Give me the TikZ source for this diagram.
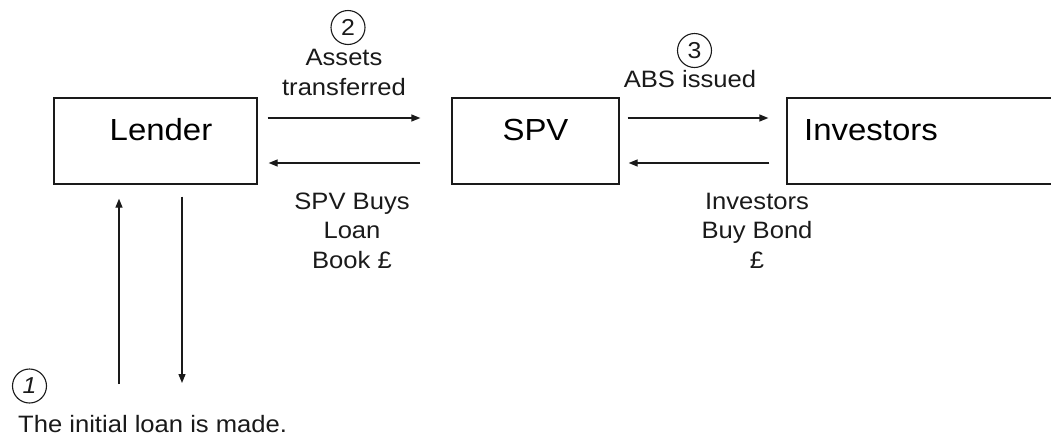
\documentclass[tikz,border=0pt]{standalone}
\usepackage{fontspec}
\setmainfont[FakeStretch=1.08]{Liberation Sans}
\usetikzlibrary{arrows.meta,calc}
\definecolor{ink}{HTML}{1A1A1A}
\tikzset{
  box/.style={draw=ink, line width=1.3pt, minimum height=86pt, inner sep=0pt},
  boxtext/.style={anchor=base, inner sep=0pt, font=\fontsize{30.5}{36}\selectfont, text=black},
  lbl/.style={anchor=base, inner sep=0pt, align=center, font=\fontsize{23.7}{29.3}\selectfont, text=ink},
  num/.style={draw=ink, circle, line width=1.1pt, minimum size=34pt, inner sep=0pt, font=\fontsize{23}{27}\selectfont, text=ink},
  arr/.style={draw=ink, line width=1.3pt, -{Triangle[length=9pt,width=7pt]}}
}
\begin{document}
\begin{tikzpicture}[x=1pt,y=-1pt]
\useasboundingbox (0,0) rectangle (1051,437);
\clip (0,0) rectangle (1051,437);
% boxes
\node[box, minimum width=203pt] (lender) at (155.5,141) {};
\node[box, minimum width=167pt] (spv) at (535.5,141) {};
\node[box, minimum width=333pt] (inv) at (953.5,141) {};
\node[boxtext] (lendert) at (161,140) {Lender};
\node[boxtext] (spvt) at (535.5,140) {SPV};
\node[boxtext] (invt) at (871,140) {Investors};
% horizontal arrows
\draw[arr] ($(lender.east)+(10,-23)$) -- ($(spv.west)+(-31,-23)$);
\draw[arr] ($(spv.west)+(-31,22)$) -- ($(lender.east)+(11,22)$);
\draw[arr] ($(spv.east)+(8,-23)$) -- ($(inv.west)+(-18,-23)$);
\draw[arr] ($(inv.west)+(-17,22)$) -- ($(spv.east)+(9,22)$);
% vertical arrows
\coordinate (up0) at (119,384);
\coordinate (dn0) at (182,383);
\draw[arr] (up0) -- ($(lender.south -| up0)+(0,14)$);
\draw[arr] ($(lender.south -| dn0)+(0,12)$) -- (dn0);
% numbered circles
\node[num] (c2) at (348,27.5) {2};
\node[num] (c3) at (694.5,50.5) {3};
\node[num] (c1) at (29.5,386) {\itshape 1};
% labels (base = last line)
\node[lbl] (l2) at (344,95) {Assets\\transferred};
\node[lbl] (l3) at (690,87) {ABS issued};
\node[lbl] (l4) at (352,268) {SPV Buys\\Loan\\Book £};
\node[lbl] (l5) at (757,268) {Investors\\Buy Bond\\£};
\node[lbl, anchor=base west] (l1) at (18,432) {The initial loan is made.};
\end{tikzpicture}
\end{document}
